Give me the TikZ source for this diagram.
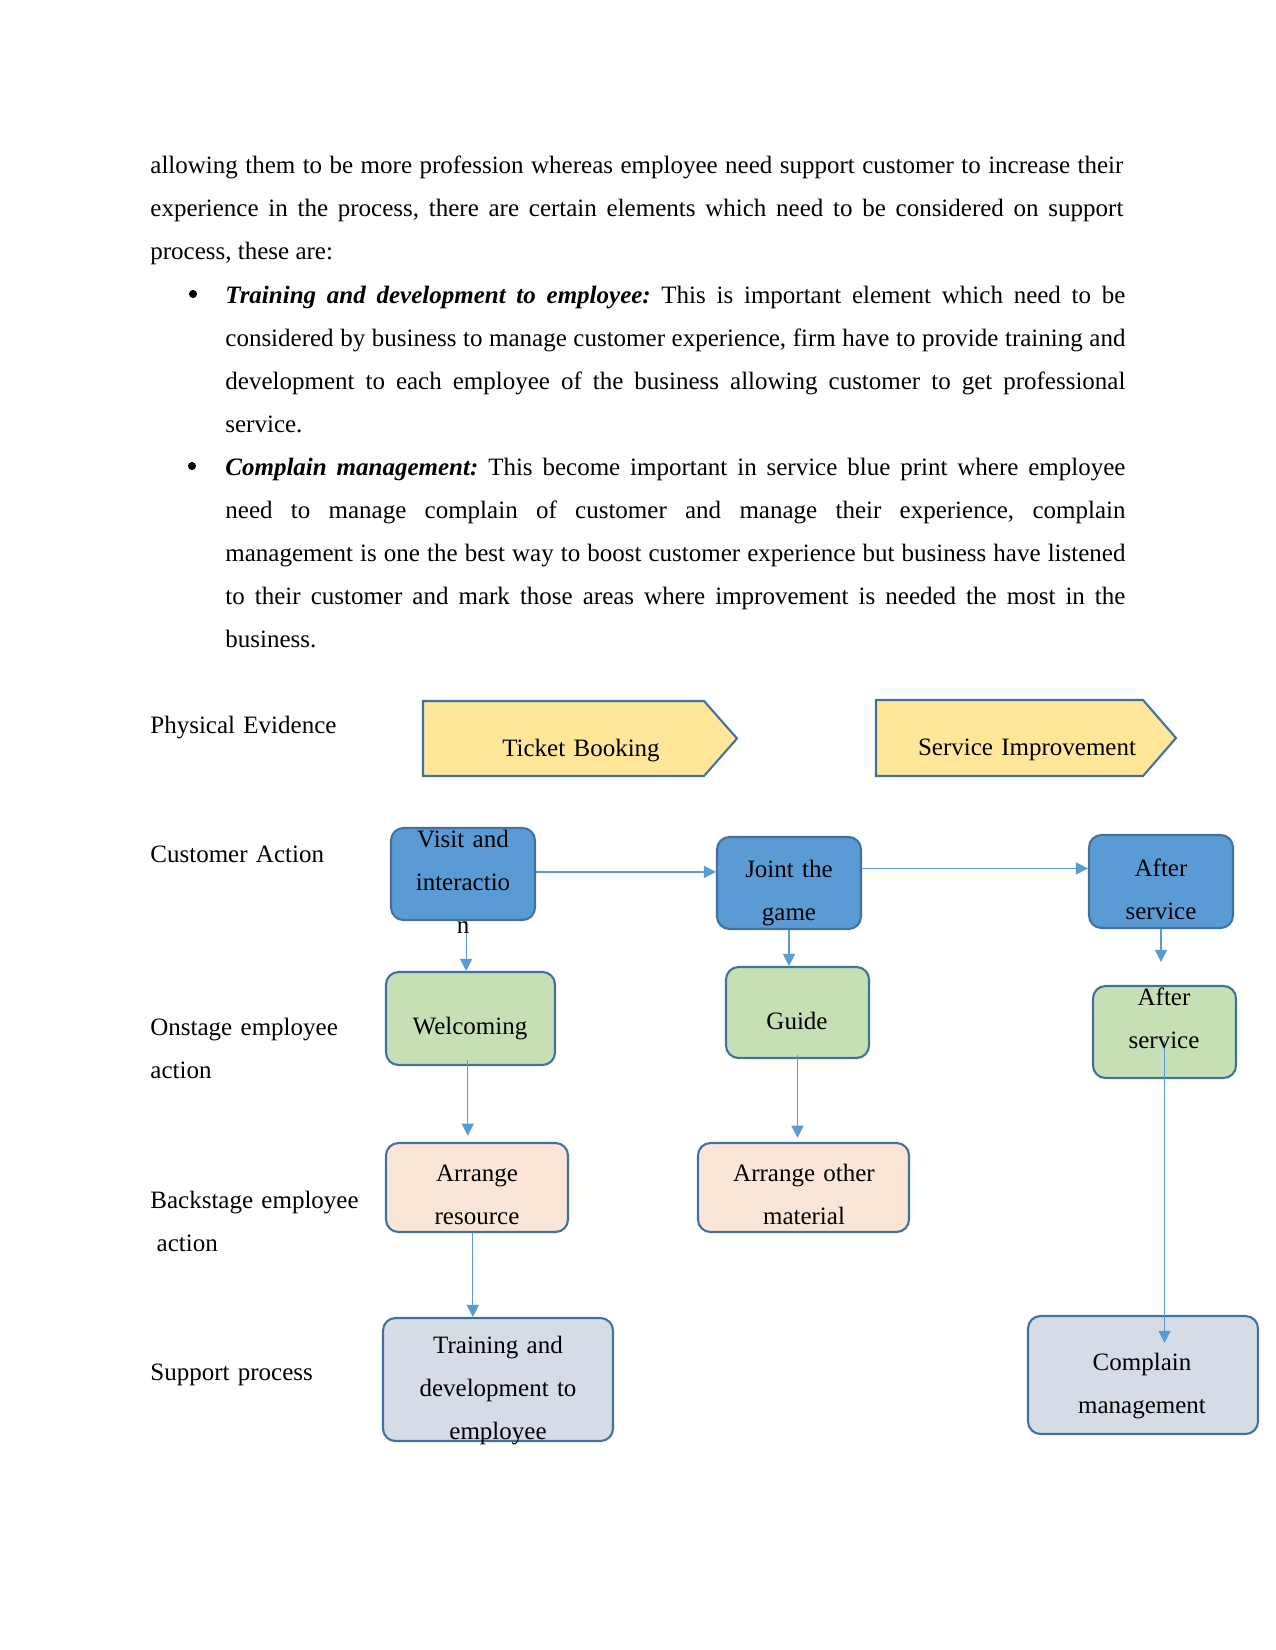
\documentclass[tikz,border=0pt]{standalone}
\usepackage{fontspec}
\setmainfont{Liberation Serif}
\usetikzlibrary{arrows.meta,calc}
\definecolor{bfill}{HTML}{5B9BD5}
\definecolor{bdraw}{HTML}{41719C}
\definecolor{gfill}{HTML}{C5E0B4}
\definecolor{pfill}{HTML}{FBE5D6}
\definecolor{sfill}{HTML}{D6DCE5}
\definecolor{yfill}{HTML}{FFE699}
\definecolor{arrc}{HTML}{5B9BD5}
\begin{document}
\frenchspacing
\begin{tikzpicture}[x=0.48pt,y=-0.48pt,
  every node/.style={font=\fontsize{12}{20.7}\selectfont},
  txt/.style={inner sep=0pt, text width=144pt, align=center, anchor=base, yshift=-1pt},
  lbl/.style={inner sep=0pt, text width=125pt, align=left, anchor=base west, yshift=-1pt},
  para/.style={inner sep=0pt, align=justify, anchor=base west, yshift=-0.7pt,
    execute at begin node={\frenchspacing\tolerance=9999\hyphenpenalty=10000\emergencystretch=0pt}},
  dot/.style={circle, fill=black, inner sep=0pt, minimum size=3.9pt},
  bx/.style n args={3}{draw=bdraw, line width=1pt, rounded corners=6pt, fill=#1,
    minimum width=#2*0.48pt, minimum height=#3*0.48pt, inner sep=0pt},
  pe/.style={draw=bdraw, line width=1pt, fill=yfill},
  arr/.style={draw=arrc, line width=0.6pt, -{Triangle[length=5.8pt,width=5.8pt]}},
]
\fill[white] (0,0) rectangle (1275,1650);
\useasboundingbox (0,0) rectangle (1275,1650);

% ---------- body text ----------
\node[para, text width=467pt] (p1) at (150,172) {allowing them to be more profession whereas employee need support customer to increase their\linebreak experience in the process, there are certain elements which need to be considered on support\linebreak process, these are:};
\node[dot] (bul1) at (193,294) {};
\node[para, text width=432pt] (p2) at (225,302) {\textbf{\textit{Training and development to employee:}} This is important element which need to be\linebreak considered by business to manage customer experience, firm have to provide training and\linebreak development to each employee of the business allowing customer to get professional\linebreak service.};
\node[dot] (bul2) at (192,466) {};
\node[para, text width=432pt] (p3) at (225,474) {\textbf{\textit{Complain management:}} This become important in service blue print where employee\linebreak need to manage complain of customer and manage their experience, complain\linebreak management is one the best way to boost customer experience but business have listened\linebreak to their customer and mark those areas where improvement is needed the most in the\linebreak business.};

% ---------- row labels ----------
\node[lbl] (lpe) at (150,731) {Physical Evidence};
\node[lbl] (lca) at (150,860) {Customer Action};
\node[lbl] (lon) at (150,1033) {Onstage employee\\action};
\node[lbl] (lbs) at (150,1206) {Backstage employee\\\hspace*{3pt}action};
\node[lbl] (lsp) at (150,1378) {Support process};

% ---------- physical evidence ----------
\draw[pe] (423,701) -- (704,701) -- (737,738.5) -- (704,776) -- (423,776) -- cycle;
\draw[pe] (876,700) -- (1143,700) -- (1176,738) -- (1143,776) -- (876,776) -- cycle;

% ---------- boxes ----------
\node[bx={bfill}{144}{92}] (visit) at (463,874) {};
\node[bx={bfill}{144}{92}] (joint) at (789,883) {};
\node[bx={bfill}{144}{93}] (afterB) at (1161,881.5) {};
\node[bx={gfill}{169}{93}] (welc) at (470.5,1018.5) {};
\node[bx={gfill}{143}{91}] (guide) at (797.5,1012.5) {};
\node[bx={gfill}{143}{92}] (afterG) at (1164.5,1032) {};
\node[bx={pfill}{182}{89}] (arrres) at (477,1187.5) {};
\node[bx={pfill}{211}{89}] (arroth) at (803.5,1187.5) {};
\node[bx={sfill}{230}{123}] (train) at (498,1379.5) {};
\node[bx={sfill}{230}{118}] (compl) at (1143,1375) {};
\coordinate (afterBend) at (1161,962);

% ---------- connectors ----------
\draw[arr] ([yshift=1pt]visit.east) -- ([yshift=1pt]visit.east -| joint.west);
\draw[arr] ([yshift=7pt]joint.east) -- ([yshift=7pt]joint.east -| afterB.west);
\draw[arr] ([xshift=1.5pt]visit.south) -- ([xshift=1.5pt]visit.south |- welc.north);
\draw[arr] (joint.south) -- (joint.south |- guide.north);
\draw[arr] (afterB.south) -- (afterBend);
\draw[arr] ([xshift=-1.3pt,yshift=3pt]welc.south) -- ([xshift=-1.3pt,yshift=3pt]welc.south |- arrres.north);
\draw[arr] ([yshift=2pt]guide.south) -- ([yshift=2pt]guide.south |- arroth.north);
\draw[arr] ([xshift=-2pt]arrres.south) -- ([xshift=-2pt]arrres.south |- train.north);
\draw[arr] ([yshift=-4.3pt]afterG.center) -- ([yshift=-13.4pt]afterG.center |- compl.north);

% ---------- texts ----------
\node[txt] (tbT) at (581,754) {Ticket Booking};
\node[txt] (siT) at (1027,753) {Service Improvement};
\node[txt] (visitT) at (463,845) {Visit and\\interactio\\n};
\node[txt] (jointT) at (789,875) {Joint the\\game};
\node[txt] (afterBT) at (1161,874) {After\\service};
\node[txt] (welcT) at (470,1032) {Welcoming};
\node[txt] (guideT) at (797,1027) {Guide};
\node[txt] (afterGT) at (1164,1003) {After\\service};
\node[txt] (arrresT) at (477,1179) {Arrange\\resource};
\node[txt] (arrothT) at (804,1179) {Arrange other\\material};
\node[txt] (trainT) at (498,1351) {Training and\\development to\\employee};
\node[txt] (complT) at (1142,1368) {Complain\\management};
\end{tikzpicture}
\end{document}
